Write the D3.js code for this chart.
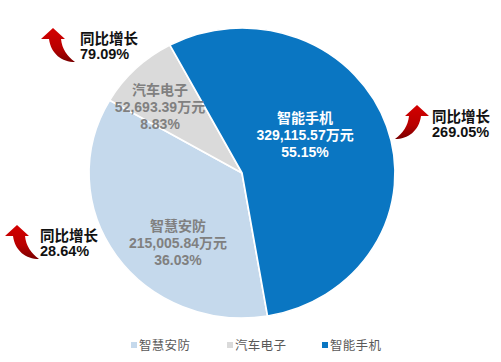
<!DOCTYPE html>
<html><head><meta charset="utf-8">
<script src="https://cdn.jsdelivr.net/npm/d3@7/dist/d3.min.js"></script>
<style>
html,body{margin:0;padding:0;background:#fff;}
svg{display:block;font-family:"Liberation Sans",Arial,"Noto Sans CJK SC",sans-serif;}
</style></head>
<body><svg id="c" width="501" height="362"></svg>
<script>
// ---- data ----
const categories = ["智慧安防", "汽车电子", "智能手机"];
const values = [215005.84, 52693.39, 329115.57];
const valueLabels = ["215,005.84万元", "52,693.39万元", "329,115.57万元"];
const shareLabels = ["36.03%", "8.83%", "55.15%"];
const growthLabels = ["28.64%", "79.09%", "269.05%"];
const growthTitle = "同比增长";

// ---- style / layout ----
const colors = ["#C5D9EC", "#DADADA", "#0A76C2"];
const labelColors = ["#808080", "#808080", "#ffffff"];
const cx = 242, cy = 173, rx = 153, ry = 145;
const startDeg = 170.4;
// label placement relative to slice mid-angle: radius and angle shift (deg)
const labelPolar = [{r: 92.6, da: -14.3}, {r: 102, da: -5.6}, {r: 70.8, da: -13.6}];
// growth annotation anchors (arrow tip, direction, text origin)
const annot = [
  {tip: [17, 225], dir: 1, tx: 40, ty: 256},
  {tip: [53, 28], dir: 1, tx: 80, ty: 59},
  {tip: [417, 105], dir: -1, tx: 432, ty: 137}
];

const svg = d3.select("#c");
const defs = svg.append("defs");
const grad = defs.append("linearGradient").attr("id", "ag").attr("x1", 0).attr("y1", 0).attr("x2", 0).attr("y2", 1);
grad.append("stop").attr("offset", "0%").attr("stop-color", "#D40000");
grad.append("stop").attr("offset", "60%").attr("stop-color", "#B80000");
grad.append("stop").attr("offset", "100%").attr("stop-color", "#7A0000");

const pie = d3.pie().sort(null).value(d => d)
  .startAngle(startDeg * Math.PI / 180)
  .endAngle(startDeg * Math.PI / 180 + 2 * Math.PI);
const arcs = pie(values);
const arc = d3.arc().innerRadius(0).outerRadius(ry);

const g = svg.append("g").attr("transform", `translate(${cx},${cy}) scale(${rx / ry},1)`);
g.selectAll("path").data(arcs).join("path")
  .attr("d", arc)
  .attr("fill", (d, i) => colors[i])
  .attr("stroke", "#fff")
  .attr("stroke-width", 1.6)
  .attr("stroke-linejoin", "round");

// slice labels
arcs.forEach((d, i) => {
  const mid = (d.startAngle + d.endAngle) / 2 + labelPolar[i].da * Math.PI / 180;
  const x = cx + Math.sin(mid) * labelPolar[i].r * rx / ry;
  const y = cy - Math.cos(mid) * labelPolar[i].r;
  const t = svg.append("text").attr("text-anchor", "middle")
    .attr("fill", labelColors[i]).attr("font-size", 14).attr("font-weight", "bold");
  [categories[i], valueLabels[i], shareLabels[i]].forEach((s, k) => {
    t.append("tspan").attr("x", x).attr("y", y + 5 + (k - 1) * 17).text(s);
  });
});

// growth annotations
const arrowPath = "M0,0 L12,11 L8,11 C9,21 14,28 22,34 C9,34 -2,26 -4,11 L-12,11 Z";
annot.forEach((a, i) => {
  svg.append("path").attr("d", arrowPath)
    .attr("transform", `translate(${a.tip[0]},${a.tip[1]}) scale(${a.dir},1)`)
    .attr("fill", "url(#ag)");
  const t = svg.append("text").attr("fill", "#111").attr("font-size", 14.5).attr("font-weight", "bold");
  t.append("tspan").attr("x", a.tx).attr("y", a.ty - 15).text(growthTitle);
  t.append("tspan").attr("x", a.tx).attr("y", a.ty).text(growthLabels[i]);
});

// legend
const legX = [131, 227, 322];
const leg = svg.append("g");
categories.forEach((c, i) => {
  leg.append("rect").attr("x", legX[i]).attr("y", 342).attr("width", 6).attr("height", 6).attr("fill", colors[i]);
  leg.append("text").attr("x", legX[i] + 8).attr("y", 350).attr("font-size", 12.5)
    .attr("fill", "#595959").attr("letter-spacing", 0.3).text(c);
});
</script></body></html>
